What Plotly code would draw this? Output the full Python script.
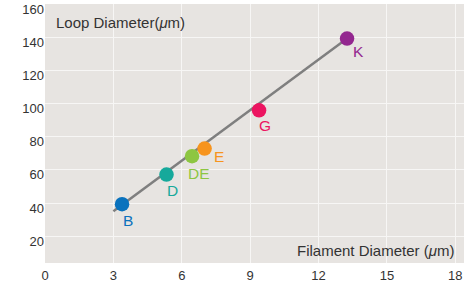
import plotly.graph_objects as go

# Data
samples = ["B", "D", "DE", "E", "G", "K"]
filament_diameter = [3.38, 5.33, 6.45, 7.0, 9.39, 13.25]
loop_diameter = [39.3, 57.2, 68.3, 72.9, 96.0, 139.3]
colors = ["#0a72bd", "#16a99b", "#8dc641", "#f7941d", "#ec1561", "#93278f"]

fit_x = [3.0, 13.25]
fit_y = [35.1, 139.3]

x_ticks = [0, 3, 6, 9, 12, 15, 18]
y_ticks = [20, 40, 60, 80, 100, 120, 140, 160]

# label offsets (pixels) - styling
label_offsets = {"B": (6, 16), "D": (6, 16), "DE": (7, 17), "E": (14, 8), "G": (6, 15), "K": (11, 13)}

FONT = "Liberation Sans, Arial, Helvetica, sans-serif"

fig = go.Figure()
fig.add_trace(go.Scatter(x=fit_x, y=fit_y, mode="lines",
                         line=dict(color="#7f7f7f", width=2.5), hoverinfo="skip"))
fig.add_trace(go.Scatter(x=filament_diameter, y=loop_diameter, mode="markers",
                         marker=dict(color=colors, size=14.5, line=dict(width=0))))

for s, xv, yv, c in zip(samples, filament_diameter, loop_diameter, colors):
    dx, dy = label_offsets[s]
    fig.add_annotation(x=xv, y=yv, text=s, showarrow=False, xref="x", yref="y",
                       xshift=dx, yshift=-dy, xanchor="center", yanchor="middle",
                       font=dict(family=FONT, size=15.5, color=c))

fig.add_annotation(x=0.022, y=0.927, xref="paper", yref="paper", text="Loop Diameter(<i>μ</i>m)",
                   showarrow=False, xanchor="left", yanchor="middle",
                   font=dict(family=FONT, size=15, color="#333333"))
fig.add_annotation(x=0.981, y=0.050, xref="paper", yref="paper", text="Filament Diameter (<i>μ</i>m)",
                   showarrow=False, xanchor="right", yanchor="middle",
                   font=dict(family=FONT, size=15, color="#333333"))

fig.update_layout(
    width=464, height=286,
    margin=dict(l=45, r=0, t=4, b=23, autoexpand=False),
    paper_bgcolor="white", plot_bgcolor="#e7e4e1",
    showlegend=False,
    font=dict(family=FONT, size=13, color="#333333"),
)
fig.update_xaxes(range=[0, 18.38], tickvals=x_ticks, ticktext=[str(v) for v in x_ticks],
                 showgrid=True, gridcolor="#f7f6f5", gridwidth=1.2, zeroline=False,
                 showline=False, ticks="", automargin=False, ticklabelstandoff=3,
                 tickfont=dict(size=13, color="#333333"))
fig.update_yaxes(range=[3.8, 160.2], tickvals=y_ticks, ticktext=[str(v) for v in y_ticks],
                 showgrid=True, gridcolor="#f7f6f5", gridwidth=1.2, zeroline=False,
                 showline=False, ticks="", ticklabelshift=5, automargin=False,
                 tickfont=dict(size=13, color="#333333"))

fig.write_html("out.html", config={"displayModeBar": False},
               post_script="document.body.style.margin='0';document.body.style.padding='0';")
